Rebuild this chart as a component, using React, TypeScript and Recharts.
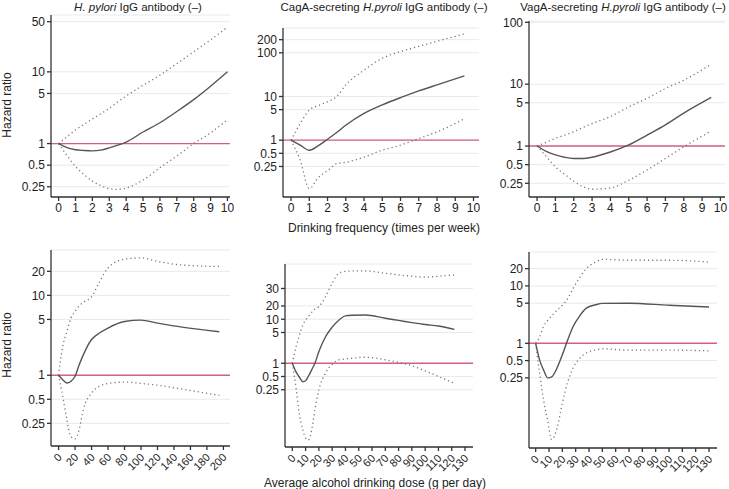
import { LineChart, Line, XAxis, YAxis, CartesianGrid, ReferenceLine } from "recharts";

const FONT = "'Liberation Sans', Arial, sans-serif";

// top row: drinking frequency (times per week)
const freqTicks = [0, 1, 2, 3, 4, 5, 6, 7, 8, 9, 10];

const p1X = [0, 0.5, 1, 1.5, 2, 2.5, 3, 3.5, 4, 5, 6, 7, 8, 9, 10];
const p1Est = [1, 0.88, 0.82, 0.8, 0.79, 0.81, 0.87, 0.95, 1.05, 1.45, 1.95, 2.8, 4.1, 6.3, 10];
const p1Upper = [1, 1.25, 1.55, 1.85, 2.2, 2.6, 3.1, 3.8, 4.6, 6.5, 9.0, 13, 19, 28, 42];
const p1Lower = [1, 0.68, 0.48, 0.37, 0.3, 0.26, 0.235, 0.23, 0.24, 0.31, 0.46, 0.67, 1.0, 1.41, 2.16];
const p1YTicks = [0.25, 0.5, 1, 5, 10, 50];

const p2X = [0, 0.5, 1, 1.5, 2, 2.5, 3, 4, 5, 6, 7, 8, 9.5];
const p2Est = [1, 0.77, 0.59, 0.75, 1.05, 1.5, 2.2, 4.1, 6.4, 9.4, 13.4, 18.5, 29.6];
const p2Upper = [1, 2.4, 4.9, 6.2, 7.6, 9.9, 18.5, 40, 75, 107, 140, 184, 270];
const p2Lower = [1, 0.35, 0.078, 0.14, 0.2, 0.29, 0.31, 0.41, 0.59, 0.77, 1.09, 1.55, 3.1];
const p2YTicks = [0.25, 0.5, 1, 5, 10, 100, 200];

const p3X = [0, 0.5, 1, 1.5, 2, 2.5, 3, 4, 5, 6, 7, 8, 9.5];
const p3Est = [1, 0.82, 0.72, 0.66, 0.63, 0.63, 0.66, 0.8, 1.04, 1.5, 2.2, 3.4, 6.1];
const p3Upper = [1, 1.15, 1.33, 1.5, 1.7, 2.0, 2.3, 3.0, 4.3, 5.9, 8.5, 11.6, 21];
const p3Lower = [1, 0.68, 0.46, 0.35, 0.27, 0.22, 0.2, 0.21, 0.28, 0.41, 0.63, 0.97, 1.75];
const p3YTicks = [0.25, 0.5, 1, 5, 10, 100];

// bottom row: average alcohol drinking dose (g per day)
const doseTicks200 = [0, 20, 40, 60, 80, 100, 120, 140, 160, 180, 200];
const doseTicks130 = [0, 10, 20, 30, 40, 50, 60, 70, 80, 90, 100, 110, 120, 130];

const p4X = [0, 5, 10, 15, 20, 25, 30, 40, 50, 60, 80, 100, 120, 150, 195];
const p4Est = [1, 0.88, 0.8, 0.84, 0.97, 1.35, 1.8, 2.8, 3.4, 3.9, 4.7, 4.9, 4.5, 4.0, 3.5];
const p4Upper = [1, 2.3, 3.5, 5.2, 6.3, 7.4, 8.2, 9.6, 15, 22, 28.5, 29.5, 26.6, 24, 23];
const p4Lower = [1, 0.55, 0.28, 0.17, 0.16, 0.21, 0.37, 0.6, 0.73, 0.79, 0.82, 0.79, 0.75, 0.67, 0.56];
const p4YTicks = [0.25, 0.5, 1, 5, 10, 20];

const p5X = [0, 3, 5, 8, 10, 12, 15, 17, 20, 25, 30, 35, 40, 45, 55, 70, 80, 90, 100, 110, 122];
const p5Est = [1, 0.62, 0.5, 0.38, 0.4, 0.5, 0.75, 1.0, 1.84, 4.0, 6.6, 9.5, 11.9, 12.3, 12.5, 10.5, 9.4, 8.4, 7.6, 7.0, 5.9];
const p5Upper = [1, 2.5, 4.0, 7.5, 9.6, 11.5, 14.9, 17, 19.3, 32.5, 66, 111, 122, 125, 125, 111, 102, 95, 90, 95, 102];
const p5Lower = [1, 0.25, 0.08, 0.03, 0.02, 0.018, 0.036, 0.09, 0.25, 0.6, 0.95, 1.19, 1.25, 1.3, 1.37, 1.2, 1.05, 0.88, 0.67, 0.5, 0.35];
// the original figure prints its top tick "30" where 50 would sit on the log scale
const p5YTicks = [0.25, 0.5, 1, 5, 10, 20, 50];
const p5YLabels = ["0.25", "0.5", "1", "5", "10", "20", "30"];

const p6X = [0, 3, 6, 9, 12, 16, 20, 24, 28, 33, 38, 45, 50, 70, 100, 130];
const p6Est = [1, 0.51, 0.34, 0.25, 0.26, 0.37, 0.63, 1.14, 1.94, 3.0, 4.1, 4.7, 4.96, 5.0, 4.6, 4.3];
const p6Upper = [1, 1.3, 2.0, 2.5, 3.0, 3.8, 4.6, 6.0, 9, 14, 20, 26, 29, 28, 28, 26];
const p6Lower = [1, 0.3, 0.1, 0.045, 0.021, 0.033, 0.09, 0.21, 0.37, 0.55, 0.68, 0.77, 0.8, 0.76, 0.76, 0.74];
const p6YTicks = [0.25, 0.5, 1, 5, 10, 20];

type PanelProps = {
  x: number[];
  est: number[];
  upper: number[];
  lower: number[];
  xDomain: [number, number];
  xTicks: number[];
  yDomain: [number, number];
  yTicks: number[];
  yLabels?: string[];
  plotLeft: number;
  plotTop: number;
  plotW: number;
  plotH: number;
  rotated?: boolean;
};

const Y_W = 40;
const M = 4;

function RotTick(props: any) {
  const { x, y, payload } = props;
  return (
    <g transform={`translate(${x + 4},${y + 6})`}>
      <text
        x={0}
        y={0}
        textAnchor="end"
        transform="rotate(-45)"
        fontSize={11}
        fontFamily={FONT}
        fill="#222"
      >
        {payload.value}
      </text>
    </g>
  );
}

function Panel(p: PanelProps) {
  const xH = p.rotated ? 40 : 24;
  const rows = p.x.map((v, i) => ({
    x: v,
    est: p.est[i],
    upper: p.upper[i],
    lower: p.lower[i],
  }));
  const fmt = (v: number) => {
    const i = p.yTicks.indexOf(v);
    return p.yLabels && i >= 0 ? p.yLabels[i] : String(v);
  };
  return (
    <div style={{ position: "absolute", left: p.plotLeft - Y_W, top: p.plotTop - M }}>
      <LineChart
        width={Y_W + p.plotW + M}
        height={M + p.plotH + xH}
        data={rows}
        margin={{ top: M, right: M, left: 0, bottom: 0 }}
      >
        <CartesianGrid horizontal vertical={false} stroke="#e3ecef" strokeWidth={1} />
        <XAxis
          dataKey="x"
          type="number"
          domain={p.xDomain}
          ticks={p.xTicks}
          allowDataOverflow
          interval={0}
          height={xH}
          tickSize={4}
          tickMargin={2}
          axisLine={{ stroke: "#333", strokeWidth: 1.3 }}
          tickLine={{ stroke: "#333", strokeWidth: 1.3 }}
          tick={p.rotated ? <RotTick /> : { fontSize: 12, fontFamily: FONT, fill: "#222" }}
        />
        <YAxis
          type="number"
          scale="log"
          domain={p.yDomain}
          ticks={p.yTicks}
          tickFormatter={fmt}
          allowDataOverflow
          interval={0}
          width={Y_W}
          tickSize={4}
          tickMargin={2}
          axisLine={{ stroke: "#333", strokeWidth: 1.3 }}
          tickLine={{ stroke: "#333", strokeWidth: 1.3 }}
          tick={{ fontSize: 12, fontFamily: FONT, fill: "#222" }}
        />
        <ReferenceLine y={1} stroke="#d3607c" strokeWidth={1.4} ifOverflow="hidden" />
        <Line
          dataKey="upper"
          stroke="#777"
          strokeWidth={1.3}
          strokeDasharray="1.2 3"
          dot={false}
          type="monotone"
          isAnimationActive={false}
        />
        <Line
          dataKey="lower"
          stroke="#777"
          strokeWidth={1.3}
          strokeDasharray="1.2 3"
          dot={false}
          type="monotone"
          isAnimationActive={false}
        />
        <Line
          dataKey="est"
          stroke="#555"
          strokeWidth={1.4}
          dot={false}
          type="monotone"
          isAnimationActive={false}
        />
      </LineChart>
    </div>
  );
}

const label: React.CSSProperties = {
  position: "absolute",
  whiteSpace: "nowrap",
  transform: "translate(-50%, -50%)",
  fontFamily: FONT,
  fontSize: 12,
  color: "#222",
  lineHeight: 1,
};

const title: React.CSSProperties = { ...label, fontSize: 11.5 };

function VLabel({ x, y }: { x: number; y: number }) {
  return (
    <div style={{ ...label, left: x, top: y, transform: "translate(-50%, -50%) rotate(-90deg)" }}>
      Hazard ratio
    </div>
  );
}

export default function App() {
  return (
    <div style={{ position: "absolute", left: 0, top: 0, width: 729, height: 489, background: "#fff", overflow: "hidden" }}>
      <div style={{ ...title, left: 138, top: 8 }}>
        <i>H. pylori</i> IgG antibody (–)
      </div>
      <div style={{ ...title, left: 384, top: 8 }}>
        CagA-secreting <i>H.pyroli</i> IgG antibody (–)
      </div>
      <div style={{ ...title, left: 623, top: 8 }}>
        VagA-secreting <i>H.pyroli</i> IgG antibody (–)
      </div>
      <VLabel x={7} y={105} />
      <VLabel x={7} y={345} />
      <div style={{ ...label, left: 384, top: 228 }}>Drinking frequency (times per week)</div>
      <div style={{ ...label, left: 375, top: 483 }}>Average alcohol drinking dose (g per day)</div>

      <Panel
        x={p1X} est={p1Est} upper={p1Upper} lower={p1Lower}
        xDomain={[-0.45, 10.15]} xTicks={freqTicks}
        yDomain={[0.18, 62]} yTicks={p1YTicks}
        plotLeft={51} plotTop={15} plotW={179} plotH={182}
      />
      <Panel
        x={p2X} est={p2Est} upper={p2Upper} lower={p2Lower}
        xDomain={[-0.44, 10.3]} xTicks={freqTicks}
        yDomain={[0.05, 370]} yTicks={p2YTicks}
        plotLeft={283} plotTop={28} plotW={196} plotH={169}
      />
      <Panel
        x={p3X} est={p3Est} upper={p3Upper} lower={p3Lower}
        xDomain={[-0.44, 10.25]} xTicks={freqTicks}
        yDomain={[0.15, 105]} yTicks={p3YTicks}
        plotLeft={529} plotTop={21} plotW={196} plotH={176}
      />
      <Panel
        x={p4X} est={p4Est} upper={p4Upper} lower={p4Lower}
        xDomain={[-9.2, 208]} xTicks={doseTicks200}
        yDomain={[0.13, 37]} yTicks={p4YTicks}
        plotLeft={51} plotTop={250} plotW={179} plotH={196}
        rotated
      />
      <Panel
        x={p5X} est={p5Est} upper={p5Upper} lower={p5Lower}
        xDomain={[-5.5, 136]} xTicks={doseTicks130}
        yDomain={[0.0125, 180]} yTicks={p5YTicks} yLabels={p5YLabels}
        plotLeft={285} plotTop={264} plotW={188} plotH={183}
        rotated
      />
      <Panel
        x={p6X} est={p6Est} upper={p6Upper} lower={p6Lower}
        xDomain={[-5, 136]} xTicks={doseTicks130}
        yDomain={[0.015, 39]} yTicks={p6YTicks}
        plotLeft={529} plotTop={252} plotW={188} plotH={196}
        rotated
      />
    </div>
  );
}
